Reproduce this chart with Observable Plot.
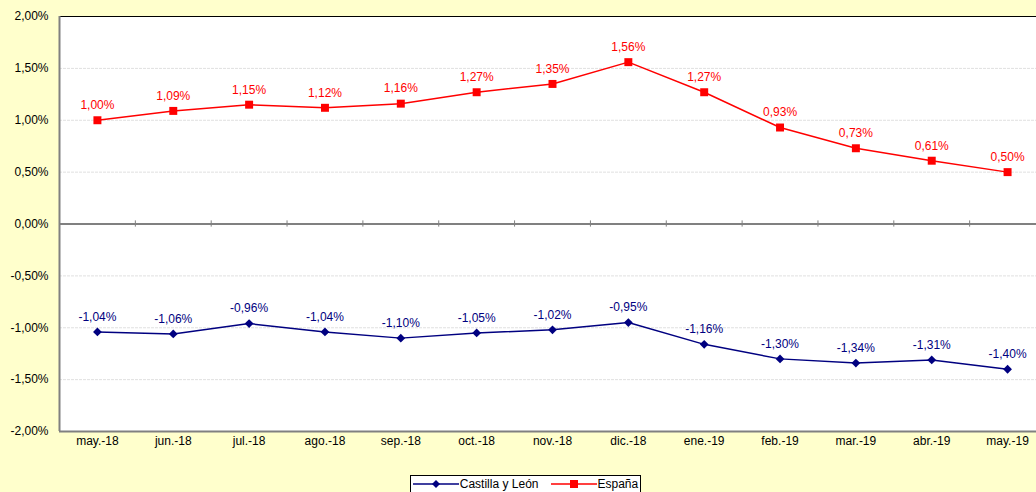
<!DOCTYPE html>
<html>
<head>
<meta charset="utf-8">
<script src="https://cdn.jsdelivr.net/npm/d3@7"></script>
<script src="https://cdn.jsdelivr.net/npm/@observablehq/plot@0.6"></script>
<style>
  body { margin: 0; background: #FFFFCC; font-family: "Liberation Sans", Arial, sans-serif; overflow: hidden; }
  #chart svg { display: block; }
  #legend { position: absolute; left: 410px; top: 475px; width: 231px; height: 17px; background: white; border: 1px solid #000;
    border-bottom: none; box-sizing: border-box; font-size: 12px; line-height: 14px; display: flex; align-items: center; justify-content: center; gap: 12px; }
  #legend span { display: flex; align-items: center; gap: 1px; }
</style>
</head>
<body>
<div id="chart"></div>
<div id="legend">
  <span><svg width="46" height="10"><line x1="0" y1="5" x2="46" y2="5" stroke="#000080" stroke-width="1.5"/><path d="M23,1 L27,5 L23,9 L19,5Z" fill="#000080"/></svg>Castilla y León</span>
  <span><svg width="46" height="10"><line x1="0" y1="5" x2="46" y2="5" stroke="#FF0000" stroke-width="1.5"/><rect x="19" y="1" width="8" height="8" fill="#FF0000"/></svg>España</span>
</div>
<script>
const meses = ['may.-18','jun.-18','jul.-18','ago.-18','sep.-18','oct.-18','nov.-18','dic.-18','ene.-19','feb.-19','mar.-19','abr.-19','may.-19']
const espana = [1.00, 1.09, 1.15, 1.12, 1.16, 1.27, 1.35, 1.56, 1.27, 0.93, 0.73, 0.61, 0.50]
const castilla = [-1.04, -1.06, -0.96, -1.04, -1.10, -1.05, -1.02, -0.95, -1.16, -1.30, -1.34, -1.31, -1.40]
const yTicks = [-2, -1.5, -1, -0.5, 0, 0.5, 1, 1.5, 2]

const fmt = v => v.toFixed(2).replace('.', ',') + '%'

const esp = meses.map((m, i) => ({i, v: espana[i]}))
const cyl = meses.map((m, i) => ({i, v: castilla[i]}))
const bordes = meses.slice(1).map((m, i) => i + 0.5)

// rombo (cuadrado girado) como en el original
const rombo = {
  draw(ctx, size) {
    const r = Math.sqrt(size / 2)
    ctx.moveTo(0, -r); ctx.lineTo(r, 0); ctx.lineTo(0, r); ctx.lineTo(-r, 0); ctx.closePath()
  }
}

let chart = Plot.plot({
  width: 1036,
  height: 460,
  marginTop: 16,
  marginBottom: 29,
  marginLeft: 59,
  marginRight: 0,
  style: {background: 'transparent', fontFamily: '"Liberation Sans", Arial, sans-serif', fontSize: '12px', color: '#000'},
  x: {type: 'linear', domain: [-0.5, 12.5], range: [59, 1045], axis: null},
  y: {domain: [-2, 2], axis: null},
  marks: [
    Plot.frame({fill: 'white', stroke: null}),
    Plot.ruleY(yTicks.filter(d => d !== 0 && Math.abs(d) !== 2), {stroke: '#e0e0e0', strokeDasharray: '3,1'}),
    Plot.ruleY([0], {stroke: '#808080', strokeWidth: 2}),
    Plot.ruleX(bordes, {y1: -0.03, y2: 0.03, stroke: '#808080'}),
    Plot.ruleY([2], {stroke: '#000', strokeWidth: 1}),
    Plot.ruleY([-2], {stroke: '#808080', strokeWidth: 2}),
    Plot.ruleX([-0.5], {stroke: '#808080', strokeWidth: 2}),
    Plot.axisY(yTicks, {tickSize: 0, tickPadding: 11, tickFormat: fmt, fill: '#000', label: null}),
    Plot.axisX(meses.map((m, i) => i), {tickSize: 0, tickPadding: 5, tickFormat: i => meses[i], fill: '#000', label: null}),
    Plot.line(esp, {x: 'i', y: 'v', stroke: '#FF0000', strokeWidth: 1.5}),
    Plot.dot(esp, {x: 'i', y: 'v', symbol: 'square', r: 4.5, fill: '#FF0000'}),
    Plot.text(esp, {x: 'i', y: 'v', text: d => fmt(d.v), dy: -15, fill: '#FF0000'}),
    Plot.line(cyl, {x: 'i', y: 'v', stroke: '#000080', strokeWidth: 1.5}),
    Plot.dot(cyl, {x: 'i', y: 'v', symbol: rombo, r: 3.5, fill: '#000080'}),
    Plot.text(cyl, {x: 'i', y: 'v', text: d => fmt(d.v), dy: -15, fill: '#000080'})
  ]
})

d3.select('#chart').append(() => chart)
</script>
</body>
</html>
